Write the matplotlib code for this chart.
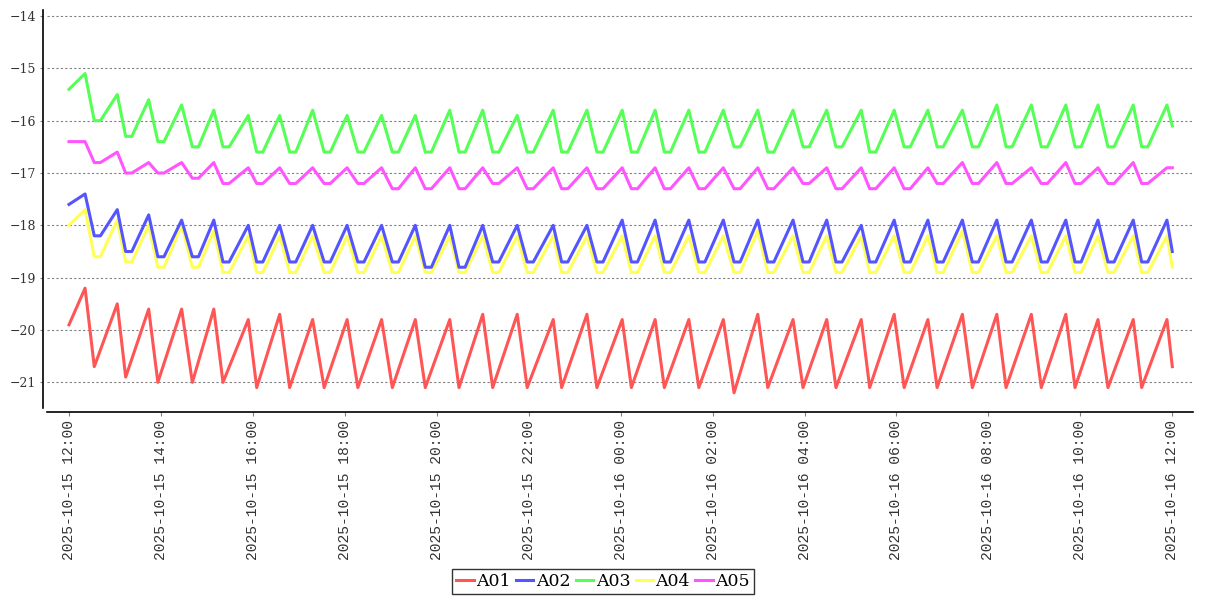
import matplotlib
matplotlib.use("Agg")
import matplotlib.pyplot as plt
import matplotlib.dates as mdates
import pandas as pd

# time of each cycle's peak / trough, minutes after 2025-10-15 12:00
peak_t = [21, 63, 104, 147, 189, 234, 275, 318, 363, 408, 452, 497, 540, 585, 632, 676,
          722, 765, 809, 854, 899, 945, 989, 1034, 1077, 1121, 1166, 1211, 1256, 1301,
          1343, 1389, 1433]
low_t = [33, 74, 116, 161, 201, 245, 288, 333, 377, 422, 465, 509, 553, 598, 643, 689,
         734, 777, 822, 868, 912, 958, 1001, 1045, 1090, 1133, 1179, 1223, 1269, 1313,
         1356, 1400]
# end of the flat bottom (A02..A05)
flat_end_t = [41, 82, 124, 169, 209, 253, 296, 341, 385, 430, 473, 517, 561, 606, 651, 697,
              742, 785, 830, 876, 920, 966, 1009, 1053, 1098, 1141, 1187, 1231, 1277, 1321,
              1364, 1408]
end_t = 1440

names = ["A01", "A02", "A03", "A04", "A05"]
colors = ["#ff5555", "#5555ff", "#55ff55", "#ffff55", "#ff55ff"]

# A01
a01_start, a01_end = -19.9, -20.7
a01_peak = [-19.2, -19.5, -19.6, -19.6, -19.6, -19.8, -19.7, -19.8, -19.8, -19.8, -19.8,
            -19.8, -19.7, -19.7, -19.8, -19.7, -19.8, -19.8, -19.8, -19.8, -19.7, -19.8,
            -19.8, -19.8, -19.7, -19.8, -19.7, -19.7, -19.7, -19.7, -19.8, -19.8, -19.8]
a01_low = [-20.7, -20.9, -21.0, -21.0, -21.0, -21.1, -21.1, -21.1, -21.1, -21.1, -21.1,
           -21.1, -21.1, -21.1, -21.1, -21.1, -21.1, -21.1, -21.1, -21.2, -21.1, -21.1,
           -21.1, -21.1, -21.1, -21.1, -21.1, -21.1, -21.1, -21.1, -21.1, -21.1]

# A02
a02_start, a02_end = -17.6, -18.5
a02_peak = [-17.4, -17.7, -17.8, -17.9, -17.9, -18.0, -18.0, -18.0, -18.0, -18.0, -18.0,
            -18.0, -18.0, -18.0, -18.0, -18.0, -17.9, -17.9, -17.9, -17.9, -17.9, -17.9,
            -17.9, -18.0, -17.9, -17.9, -17.9, -17.9, -17.9, -17.9, -17.9, -17.9, -17.9]
a02_low = [-18.2, -18.5, -18.6, -18.6, -18.7, -18.7, -18.7, -18.7, -18.7, -18.7, -18.8,
           -18.8, -18.7, -18.7, -18.7, -18.7, -18.7, -18.7, -18.7, -18.7, -18.7, -18.7,
           -18.7, -18.7, -18.7, -18.7, -18.7, -18.7, -18.7, -18.7, -18.7, -18.7]

# A03
a03_start, a03_end = -15.4, -16.1
a03_peak = [-15.1, -15.5, -15.6, -15.7, -15.8, -15.9, -15.9, -15.8, -15.9, -15.9, -15.9,
            -15.8, -15.8, -15.9, -15.8, -15.8, -15.8, -15.8, -15.8, -15.8, -15.8, -15.8,
            -15.8, -15.8, -15.8, -15.8, -15.8, -15.7, -15.7, -15.7, -15.7, -15.7, -15.7]
a03_low = [-16.0, -16.3, -16.4, -16.5, -16.5, -16.6, -16.6, -16.6, -16.6, -16.6, -16.6,
           -16.6, -16.6, -16.6, -16.6, -16.6, -16.6, -16.6, -16.6, -16.5, -16.6, -16.5,
           -16.5, -16.6, -16.5, -16.5, -16.5, -16.5, -16.5, -16.5, -16.5, -16.5]

# A04
a04_start, a04_end = -18.0, -18.8
a04_peak = [-17.7, -17.9, -18.0, -18.0, -18.1, -18.2, -18.2, -18.2, -18.2, -18.2, -18.2,
            -18.2, -18.2, -18.2, -18.2, -18.2, -18.2, -18.2, -18.2, -18.2, -18.1, -18.2,
            -18.2, -18.2, -18.2, -18.2, -18.1, -18.2, -18.2, -18.2, -18.2, -18.2, -18.2]
a04_low = [-18.6, -18.7, -18.8, -18.8, -18.9, -18.9, -18.9, -18.9, -18.9, -18.9, -18.9,
           -18.9, -18.9, -18.9, -18.9, -18.9, -18.9, -18.9, -18.9, -18.9, -18.9, -18.9,
           -18.9, -18.9, -18.9, -18.9, -18.9, -18.9, -18.9, -18.9, -18.9, -18.9]

# A05
a05_start, a05_end = -16.4, -16.9
a05_peak = [-16.4, -16.6, -16.8, -16.8, -16.8, -16.9, -16.9, -16.9, -16.9, -16.9, -16.9,
            -16.9, -16.9, -16.9, -16.9, -16.9, -16.9, -16.9, -16.9, -16.9, -16.9, -16.9,
            -16.9, -16.9, -16.9, -16.9, -16.8, -16.8, -16.9, -16.8, -16.9, -16.8, -16.9]
a05_low = [-16.8, -17.0, -17.0, -17.1, -17.2, -17.2, -17.2, -17.2, -17.2, -17.3, -17.3,
           -17.3, -17.2, -17.3, -17.3, -17.3, -17.3, -17.3, -17.3, -17.3, -17.3, -17.2,
           -17.3, -17.3, -17.3, -17.2, -17.2, -17.2, -17.2, -17.2, -17.2, -17.2]


def build(start, peaks, lows, end, flat):
    t, v = [0], [start]
    for i in range(len(lows)):
        t += [peak_t[i], low_t[i]]
        v += [peaks[i], lows[i]]
        if flat:
            t.append(flat_end_t[i])
            v.append(lows[i])
    t += [peak_t[-1], end_t]
    v += [peaks[-1], end]
    return t, v


series = [
    build(a01_start, a01_peak, a01_low, a01_end, False),
    build(a02_start, a02_peak, a02_low, a02_end, True),
    build(a03_start, a03_peak, a03_low, a03_end, True),
    build(a04_start, a04_peak, a04_low, a04_end, True),
    build(a05_start, a05_peak, a05_low, a05_end, True),
]

base = pd.Timestamp("2025-10-15 12:00")

fig = plt.figure(figsize=(12.07, 6.0), dpi=100)
W, H = 1207, 600
ax = fig.add_axes([47 / W, 1 - 408 / H, (1193 - 47) / W, (408 - 10) / H])

for i, (t, v) in enumerate(series):
    x = base + pd.to_timedelta(t, unit="min")
    ax.plot(x, v, color=colors[i], lw=2.2, label=names[i], zorder=10 - i)

ax.set_ylim(-21.49, -13.885)
ax.set_xlim(base - pd.Timedelta(minutes=28.7), base + pd.Timedelta(minutes=1467))
ax.set_yticks([-21, -20, -19, -18, -17, -16, -15, -14])
ax.xaxis.set_major_locator(mdates.HourLocator(byhour=range(0, 24, 2)))
ax.xaxis.set_major_formatter(mdates.DateFormatter("%Y-%m-%d %H:%M"))

for s in ["top", "right"]:
    ax.spines[s].set_visible(False)
ax.spines["left"].set_position(("outward", 3))
ax.spines["bottom"].set_position(("outward", 3))
ax.spines["left"].set_linewidth(1.2)
ax.spines["bottom"].set_linewidth(1.2)

ax.yaxis.grid(True, linestyle=(0, (2, 2)), color="#808080", linewidth=0.8)
ax.set_axisbelow(True)

ax.tick_params(axis="y", length=2, color="#808080", pad=3, labelcolor="#333333")
ax.tick_params(axis="x", length=3, color="#808080", pad=3, labelcolor="#333333")
for lab in ax.get_yticklabels():
    lab.set_fontfamily("DejaVu Serif")
    lab.set_fontsize(9)
for lab in ax.get_xticklabels():
    lab.set_fontfamily("Liberation Mono")
    lab.set_fontsize(10.5)
    lab.set_rotation(90)

leg = fig.legend(loc="center", bbox_to_anchor=(603 / W, 1 - 581.5 / H), ncol=5,
                 prop={"family": "DejaVu Serif", "size": 12.5},
                 frameon=True, fancybox=False, edgecolor="black",
                 handlelength=1.0, handletextpad=0.15, columnspacing=0.3,
                 borderpad=0.25, borderaxespad=0)
leg.get_frame().set_linewidth(1.0)

fig.savefig("out.png", dpi=100)
